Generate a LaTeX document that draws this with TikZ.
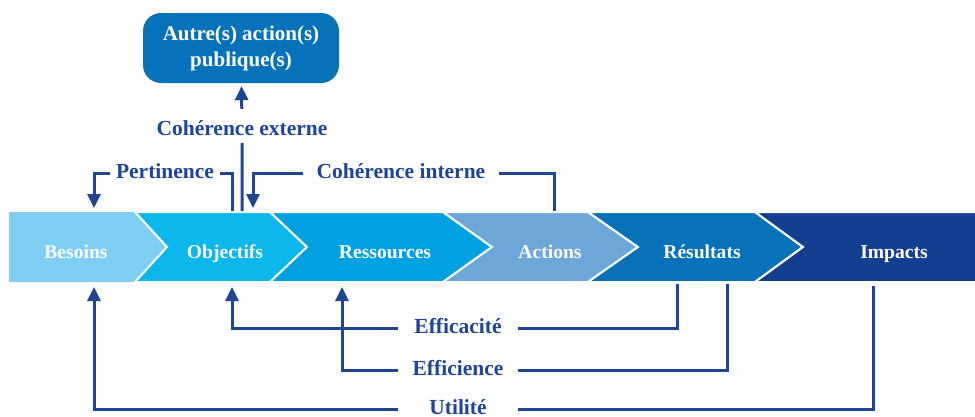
\documentclass[tikz,border=0pt]{standalone}
\usepackage{fontspec}
\setmainfont{Liberation Serif}
\usepackage{tikz}
\usetikzlibrary{positioning,calc,arrows.meta}
\definecolor{besc}{HTML}{7FCEF4}
\definecolor{objc}{HTML}{0BB7EB}
\definecolor{ressc}{HTML}{00A0E1}
\definecolor{actc}{HTML}{6BA7D9}
\definecolor{resuc}{HTML}{0572BA}
\definecolor{impc}{HTML}{143F91}
\definecolor{linkc}{HTML}{1E4596}
\tikzset{
  chev/.style={draw=white,line width=2pt,line join=miter},
  stage/.style={text=white,font=\bfseries\fontsize{19.6}{21}\selectfont,inner sep=0pt,anchor=base},
  link/.style={draw=linkc,line width=3pt,-{Triangle[width=13pt,length=14pt]}},
  crit/.style={text=linkc,fill=white,font=\bfseries\fontsize{21.5}{23}\selectfont,
    text height=14pt,text depth=4pt,inner ysep=4pt},
  critw/.style={crit,minimum width=120pt,inner xsep=0pt},
  boxnode/.style={rounded corners=18pt,fill=resuc,text=white,align=center,
    minimum width=196pt,minimum height=70pt,
    font=\bfseries\fontsize{21}{26}\selectfont}
}
\begin{document}
\begin{tikzpicture}[x=1pt,y=-1pt]
  \useasboundingbox (0,0) rectangle (975,416);

  % chevron band
  \fill[besc] (9,212) -- (135,212) -- (167,247) -- (135,282) -- (9,282) -- cycle;
  \path[chev,fill=objc] (135,212) -- (270,212) -- (307,247) -- (270,282) -- (135,282) -- (167,247) -- cycle;
  \path[chev,fill=ressc] (270,212) -- (443,212) -- (492,247) -- (443,282) -- (270,282) -- (307,247) -- cycle;
  \path[chev,fill=actc] (443,212) -- (588,212) -- (638,247) -- (588,282) -- (443,282) -- (492,247) -- cycle;
  \path[chev,fill=resuc] (588,212) -- (755,212) -- (803,247) -- (755,282) -- (588,282) -- (638,247) -- cycle;
  \path[chev,fill=impc] (755,212) -- (976,212) -- (976,282) -- (755,282) -- (803,247) -- cycle;

  \node [stage] (bes)  at (76,258)  {Besoins};
  \node [stage] (obj)  at (225,258) {Objectifs};
  \node [stage] (ress) at (385,258) {Ressources};
  \node [stage] (act)  at (550,258) {Actions};
  \node [stage] (resu) at (702,258) {Résultats};
  \node [stage] (imp)  at (894,258) {Impacts};

  \node [boxnode] (autre) at (241,48) {Autre(s) action(s)\\publique(s)};

  % attachment points on the band
  \coordinate (obj-top1) at (232,211);
  \coordinate (obj-top2) at (242,211);
  \coordinate (obj-top3) at (253,208);
  \coordinate (bes-top)  at (94,208);
  \coordinate (act-top)  at (554,211);
  \coordinate (bes-bot)  at (94,287);
  \coordinate (obj-bot)  at (232,287);
  \coordinate (ress-bot) at (342,287);
  \coordinate (resu-bot1) at (677,284);
  \coordinate (resu-bot2) at (727,284);
  \coordinate (imp-bot)  at (873,286);

  \node [crit,text height=18pt,text depth=0pt,inner ysep=8pt,inner xsep=0pt] (cext) at (242,126) {Cohérence externe};
  \node [crit,inner xsep=6pt] (pert) at (165,173) {Pertinence};
  \node [crit,inner xsep=14pt] (cint) at (401,173) {Cohérence interne};
  \node [critw] (effa) at (458,328) {Efficacité};
  \node [critw] (effi) at (458,370) {Efficience};
  \node [critw] (util) at (458,409) {Utilité};

  \draw [link,shorten >=3pt] (obj-top2) -- (cext) -- (autre);
  \draw [link] (obj-top1) |- (pert) -| (bes-top);
  \draw [link] (act-top) |- (cint) -| (obj-top3);
  \draw [link] (resu-bot1) |- (effa) -| (obj-bot);
  \draw [link] (resu-bot2) |- (effi) -| (ress-bot);
  \draw [link] (imp-bot) |- (util) -| (bes-bot);
\end{tikzpicture}
\end{document}
